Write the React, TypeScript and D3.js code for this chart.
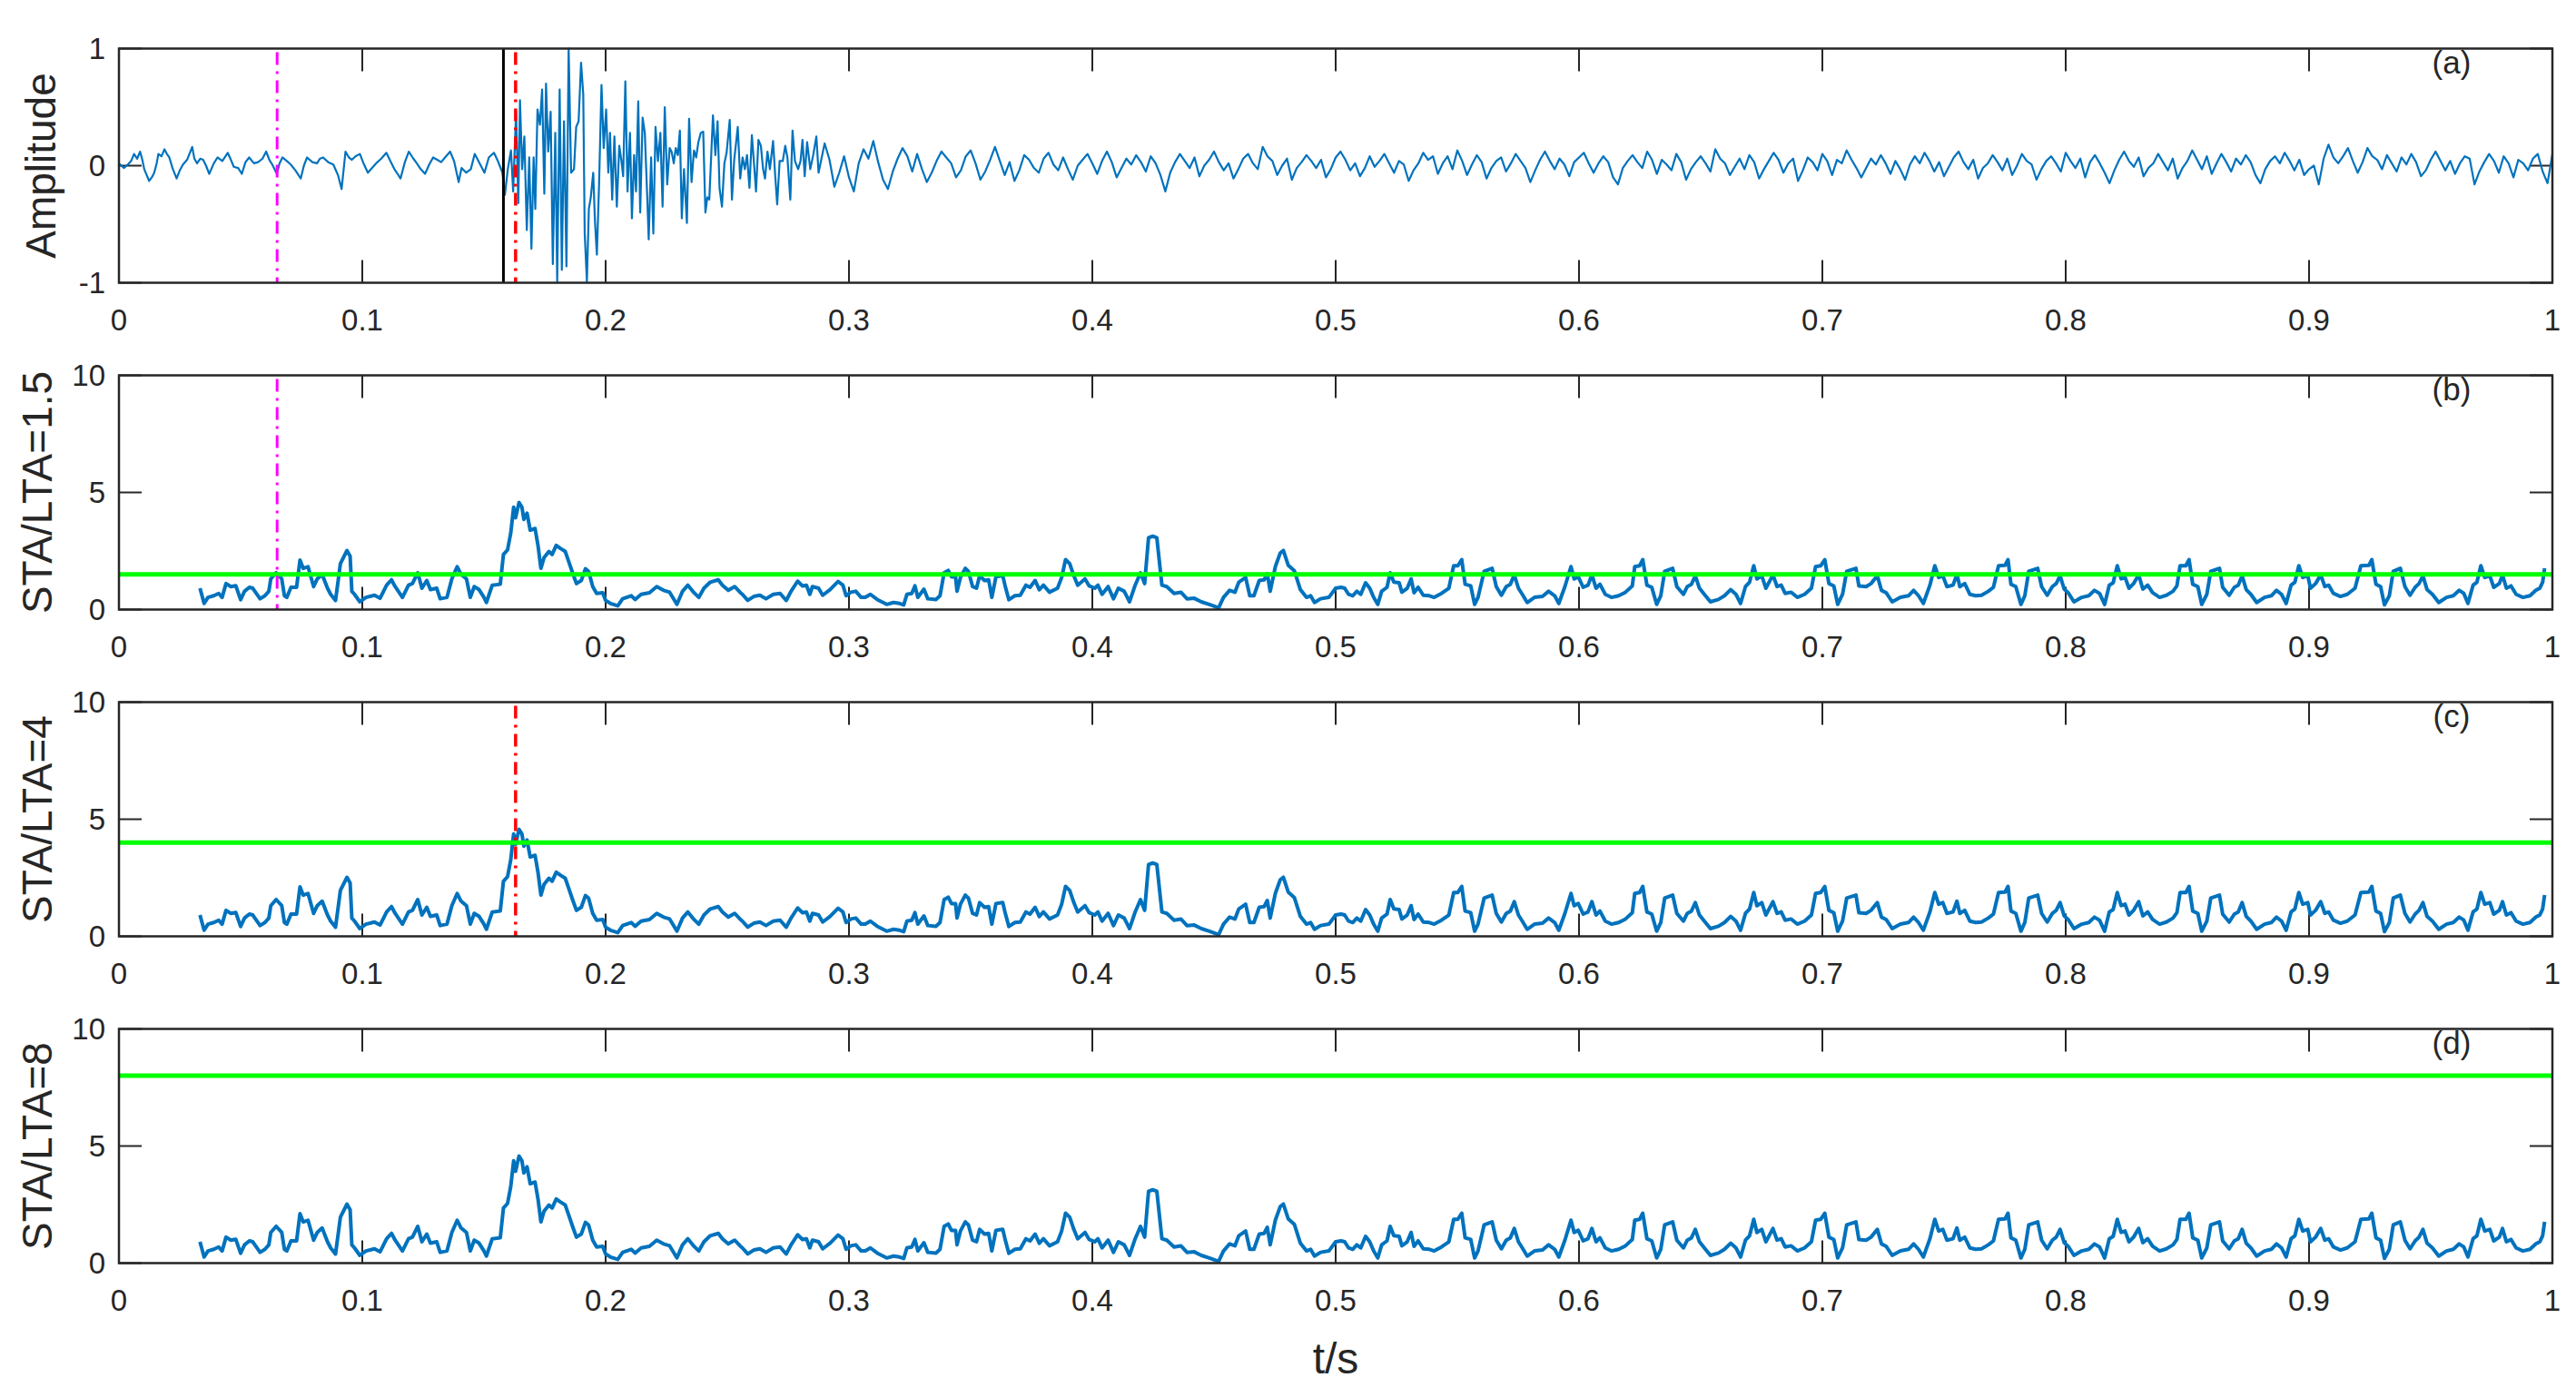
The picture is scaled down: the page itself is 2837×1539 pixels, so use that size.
import React, { useEffect } from 'react';
import * as d3 from 'd3';

type P = [number, number];

// ---------- axis / label data ----------
const xTickValues = [0, 0.1, 0.2, 0.3, 0.4, 0.5, 0.6, 0.7, 0.8, 0.9, 1];
const xTickLabels = ['0', '0.1', '0.2', '0.3', '0.4', '0.5', '0.6', '0.7', '0.8', '0.9', '1'];
const ampTicks = [-1, 0, 1];
const ratioTicks = [0, 5, 10];
const yLabels = ['Amplitude', 'STA/LTA=1.5', 'STA/LTA=4', 'STA/LTA=8'];
const panelTags = ['(a)', '(b)', '(c)', '(d)'];
const thresholds = [1.5, 4, 8];
const xLabel = 't/s';

// pick times (s)
const manualPickT = 0.158;
const lowTriggerT = 0.065; // STA/LTA = 1.5 trigger
const triggerT = 0.163; // STA/LTA = 4 trigger

// ---------- waveform (t, amplitude) ----------
const wavePre: P[] = [
  [0, 0.02], [0.002, -0.02], [0.0037, 0.01], [0.005, 0.04], [0.0062, 0.1], [0.0075, 0.06], [0.0087, 0.12], [0.0096, 0.05],
  [0.0104, -0.03], [0.0114, -0.08], [0.0124, -0.13], [0.0135, -0.1], [0.0145, -0.06], [0.0155, 0.02], [0.0162, 0.1], [0.0175, 0.08],
  [0.0187, 0.14], [0.0197, 0.1], [0.0207, 0.07], [0.022, -0.02], [0.0237, -0.11], [0.025, -0.04], [0.0263, 0.01], [0.028, 0.05],
  [0.0301, 0.16], [0.031, 0.06], [0.0321, 0.02], [0.0334, 0.06], [0.0346, 0.05], [0.0358, 0.0], [0.0371, -0.07], [0.039, 0.02],
  [0.0405, 0.07], [0.0425, 0.04], [0.0447, 0.11], [0.046, 0.05], [0.0472, -0.01], [0.049, -0.02], [0.0505, -0.07], [0.052, 0.03],
  [0.0535, 0.07], [0.0555, 0.02], [0.0572, 0.03], [0.059, 0.06], [0.0605, 0.12], [0.0618, 0.05], [0.063, 0.01], [0.0649, -0.07],
  [0.066, 0.02], [0.0672, 0.07], [0.069, 0.04], [0.0706, 0.01], [0.0725, -0.04], [0.0747, -0.11], [0.076, 0.0], [0.0773, 0.07],
  [0.0795, 0.03], [0.0814, 0.02], [0.0826, 0.06], [0.0839, 0.07], [0.086, 0.03], [0.0881, 0.01], [0.09, -0.08], [0.0915, -0.2],
  [0.0931, 0.12], [0.0945, 0.07], [0.0957, 0.05], [0.0972, 0.08], [0.099, 0.1], [0.1005, 0.02], [0.1023, -0.06], [0.104, -0.02],
  [0.1057, 0.02], [0.1078, 0.06], [0.1099, 0.11], [0.1115, 0.04], [0.1132, -0.03], [0.1145, -0.07], [0.1157, -0.11], [0.1175, 0.03],
  [0.1191, 0.12], [0.121, 0.06], [0.1224, 0.02], [0.124, -0.03], [0.1258, -0.07], [0.1275, 0.01], [0.1291, 0.07], [0.1308, 0.05],
  [0.1324, 0.03], [0.134, 0.07], [0.1361, 0.12],
];

const waveEvent: P[] = [
  [0.1377, 0.04], [0.1396, -0.14], [0.1408, -0.02], [0.1427, -0.06], [0.1446, -0.03], [0.1462, 0.1], [0.1477, 0.04], [0.1502, -0.06],
  [0.152, 0.07], [0.1541, 0.11], [0.1557, 0.04], [0.1576, -0.06], [0.1586, -0.25], [0.1598, -0.03], [0.1611, 0.13], [0.162, -0.22],
  [0.1632, 0.46], [0.1641, -0.32], [0.1648, 0.56], [0.1657, -0.03], [0.1666, 0.25], [0.1676, -0.55], [0.1686, 0.07], [0.1695, -0.71],
  [0.1704, 0.07], [0.1711, -0.37], [0.172, 0.48], [0.173, 0.35], [0.1739, 0.65], [0.1748, -0.24], [0.1755, 0.7], [0.1764, 0.12],
  [0.1774, 0.46], [0.1783, -0.84], [0.1793, 0.28], [0.1801, -0.99], [0.1811, 0.65], [0.182, -0.89], [0.1829, 0.38], [0.1839, -0.86],
  [0.1848, 1.0], [0.1858, -0.06], [0.187, -0.03], [0.1879, 0.33], [0.1889, 0.38], [0.1899, 0.88], [0.1908, 0.61], [0.1914, -0.58],
  [0.1923, -0.99], [0.1931, -0.37], [0.1939, -0.27], [0.1949, -0.06], [0.1956, -0.47], [0.1964, -0.76], [0.1973, -0.16], [0.1983, 0.69],
  [0.1992, 0.15], [0.2002, 0.48], [0.2011, -0.06], [0.2018, 0.28], [0.2027, -0.29], [0.2036, 0.25], [0.2046, -0.35], [0.2056, 0.17],
  [0.2065, 0.04], [0.2072, -0.09], [0.2081, 0.72], [0.209, -0.22], [0.21, 0.28], [0.2108, -0.45], [0.2117, 0.09], [0.2125, -0.22],
  [0.2134, 0.55], [0.2142, -0.4], [0.2152, 0.41], [0.2161, 0.28], [0.2171, -0.27], [0.2177, -0.63], [0.2187, 0.07], [0.2196, -0.58],
  [0.2205, 0.33], [0.2215, 0.04], [0.2225, 0.28], [0.2234, -0.35], [0.2243, 0.5], [0.2253, -0.16], [0.2263, 0.15], [0.2271, 0.12],
  [0.228, 0.02], [0.2288, 0.15], [0.2297, 0.09], [0.2305, 0.3], [0.2313, -0.45], [0.2322, -0.03], [0.2334, -0.49], [0.2343, 0.4],
  [0.2353, -0.14], [0.2363, 0.13], [0.2372, 0.07], [0.2381, 0.2], [0.2391, 0.28], [0.2401, 0.29], [0.241, -0.4], [0.2418, -0.27],
  [0.2426, -0.29], [0.2441, 0.43], [0.2451, 0.09], [0.246, 0.38], [0.2468, -0.19], [0.2478, -0.35], [0.2488, 0.02], [0.2497, 0.11],
  [0.251, 0.39], [0.2519, -0.29], [0.2528, 0.04], [0.2543, 0.33], [0.2553, -0.11], [0.2563, 0.07], [0.2572, -0.03], [0.2581, 0.09],
  [0.2591, -0.19], [0.2601, 0.26], [0.2609, 0.04], [0.2618, -0.22], [0.2628, 0.22], [0.2638, 0.17], [0.2647, -0.03], [0.2655, -0.11],
  [0.2665, 0.12], [0.2675, -0.03], [0.2688, 0.21], [0.2697, -0.09], [0.2705, -0.33], [0.2715, 0.04], [0.2728, 0.04], [0.2738, 0.17],
  [0.2747, 0.07], [0.2759, -0.29], [0.2768, 0.3], [0.2778, 0.04], [0.2791, -0.03], [0.2801, 0.04], [0.2809, 0.22], [0.2818, -0.09],
  [0.2828, 0.2], [0.2841, -0.03], [0.2853, 0.09], [0.2866, 0.25], [0.2875, -0.06],
];

// coda + background noise, sampled every 2 ms from 0.29 s to 1.0 s
const waveTailStart = 0.29;
const waveTailStep = 0.002;
const waveTailValues = [
  0.19, 0.05, -0.18, -0.06, 0.08, -0.1, -0.22, 0.02, 0.14, 0.06,
  0.21, 0.03, -0.12, -0.2, -0.05, 0.06, 0.15, 0.08, -0.05, 0.1,
  -0.03, -0.14, -0.06, 0.04, 0.12, 0.07, 0.02, -0.1, -0.04, 0.08,
  0.13, 0.02, -0.12, -0.05, 0.05, 0.16, 0.04, -0.08, 0.03, -0.13,
  -0.04, 0.09, 0.05, -0.02, -0.06, 0.06, 0.11, 0.01, -0.04, 0.07,
  -0.03, -0.12, 0.0, 0.05, 0.1, 0.02, -0.07, 0.04, 0.12, 0.03,
  -0.1, -0.02, 0.06, 0.01, 0.09, 0.03, -0.05, 0.08, 0.02, -0.08,
  -0.22, -0.06, 0.03, 0.1, 0.04, -0.02, 0.07, -0.09, 0.0, 0.05,
  0.12, 0.03, -0.04, 0.02, -0.11, -0.03, 0.06, 0.1, 0.02, -0.03,
  0.16, 0.08, 0.04, -0.08, 0.0, 0.06, -0.12, -0.02, 0.03, 0.09,
  0.04, -0.02, 0.05, -0.1, -0.03, 0.07, 0.12, 0.05, -0.04, 0.02,
  -0.09, -0.02, 0.08, -0.01, 0.04, 0.1, 0.02, -0.06, 0.04, 0.01,
  -0.13, -0.04, 0.02, 0.11, 0.05, 0.08, -0.07, 0.02, 0.08, -0.03,
  0.13, 0.04, -0.08, 0.01, 0.09, 0.03, -0.11, -0.02, 0.04, 0.07,
  -0.05, 0.02, 0.1, 0.04, -0.02, -0.14, -0.04, 0.05, 0.12, 0.04,
  -0.03, 0.06, 0.01, -0.09, 0.03, 0.07, 0.11, 0.02, -0.06, 0.02,
  0.08, 0.03, -0.1, -0.16, -0.02, 0.04, 0.09, 0.03, -0.02, 0.12,
  0.05, -0.07, 0.05, 0.01, -0.04, 0.1, 0.03, -0.12, -0.03, 0.03,
  0.08, 0.02, -0.05, 0.14, 0.06, 0.02, -0.08, -0.01, 0.06, -0.03,
  0.09, 0.03, -0.11, -0.03, 0.04, 0.11, 0.05, -0.06, 0.02, 0.06,
  -0.13, -0.04, 0.07, 0.03, -0.04, 0.1, 0.04, -0.08, 0.05, 0.02,
  0.13, 0.05, -0.02, -0.1, -0.02, 0.06, 0.01, 0.09, 0.02, -0.07,
  0.04, -0.03, -0.12, 0.01, 0.08, 0.02, 0.11, 0.04, -0.05, 0.03,
  -0.09, -0.01, 0.07, 0.12, 0.03, -0.03, 0.05, -0.11, -0.02, 0.02,
  0.09, 0.03, -0.04, 0.06, -0.08, 0.0, 0.1, 0.04, 0.01, -0.12,
  -0.03, 0.04, 0.08, 0.02, -0.05, 0.11, 0.04, -0.02, 0.06, -0.1,
  0.03, 0.09, 0.02, -0.06, -0.15, -0.04, 0.05, 0.12, 0.04, -0.01,
  0.07, -0.09, -0.02, 0.02, 0.1, 0.03, -0.04, 0.06, -0.11, -0.02,
  0.04, 0.13, 0.05, -0.03, 0.08, -0.07, 0.02, 0.1, 0.03, -0.05,
  0.06, 0.01, 0.09, 0.03, -0.08, -0.15, -0.03, 0.04, 0.08, 0.02,
  0.11, 0.04, -0.04, 0.05, -0.08, -0.03, 0.0, -0.16, 0.06, 0.18,
  0.07, 0.02, 0.08, 0.15, 0.04, -0.06, 0.03, 0.15, 0.08, 0.05,
  -0.03, 0.09, 0.02, -0.05, 0.07, 0.01, 0.1, 0.03, -0.09, -0.04,
  0.05, 0.12, 0.04, -0.04, 0.04, -0.07, 0.02, 0.08, 0.06, -0.16,
  -0.05, 0.03, 0.1, 0.04, -0.06, 0.08, 0.02, -0.1, 0.05, 0.02,
  -0.04, 0.06, 0.1, -0.05, -0.15, 0.1,
];

// ---------- STA/LTA ratio (t, ratio) ----------
const staltaEarly: P[] = [
  [0.0333, 0.91], [0.035, 0.26], [0.0366, 0.52], [0.039, 0.59], [0.041, 0.69], [0.0424, 0.52], [0.044, 1.11], [0.046, 0.98],
  [0.048, 1.02], [0.05, 0.42], [0.0516, 0.78], [0.0536, 0.95], [0.055, 0.91], [0.058, 0.46], [0.06, 0.59], [0.0616, 0.78],
  [0.0624, 1.31], [0.0646, 1.57], [0.0669, 1.31], [0.068, 0.59], [0.069, 0.52], [0.0707, 0.95], [0.073, 0.95], [0.0744, 2.11],
  [0.0757, 1.76], [0.0777, 1.83], [0.08, 0.98], [0.0815, 1.31], [0.0835, 1.5], [0.0857, 0.91], [0.087, 0.65], [0.089, 0.39],
  [0.091, 1.96], [0.0937, 2.52], [0.095, 2.28], [0.0957, 0.78], [0.0968, 0.65], [0.099, 0.33], [0.1015, 0.52], [0.105, 0.61],
  [0.1073, 0.48], [0.11, 1.04], [0.112, 1.27], [0.1135, 0.98], [0.1165, 0.52], [0.119, 1.04], [0.1206, 1.11], [0.1228, 1.57],
  [0.1245, 0.91], [0.1265, 1.24], [0.128, 0.85], [0.1306, 0.91], [0.132, 0.46], [0.1348, 0.52], [0.1368, 1.31], [0.139, 1.83],
  [0.1406, 1.5], [0.1428, 1.31], [0.1444, 0.52], [0.146, 0.98], [0.148, 0.85], [0.15, 0.52], [0.151, 0.3], [0.1534, 1.04],
  [0.1567, 1.08], [0.158, 2.35], [0.1597, 2.55], [0.161, 3.26], [0.1622, 4.37], [0.163, 3.92], [0.1644, 4.57], [0.1656, 4.37],
  [0.1664, 3.85], [0.1677, 4.11], [0.169, 3.39], [0.171, 3.46], [0.1722, 2.74], [0.1734, 1.76], [0.1747, 2.22], [0.1767, 2.48],
  [0.178, 2.35], [0.1797, 2.74], [0.1814, 2.61], [0.1834, 2.48], [0.1847, 2.09], [0.1864, 1.57], [0.188, 1.11], [0.19, 1.24],
  [0.1917, 1.74], [0.193, 1.63], [0.1947, 0.98], [0.1963, 0.69], [0.1988, 0.72], [0.2, 0.39], [0.202, 0.26], [0.205, 0.16],
  [0.207, 0.46], [0.2105, 0.59], [0.2121, 0.43], [0.2146, 0.65], [0.218, 0.72], [0.221, 0.98], [0.2238, 0.82], [0.2263, 0.74],
  [0.2293, 0.22], [0.2316, 0.78], [0.2338, 1.04], [0.2363, 0.72], [0.2383, 0.52], [0.2404, 0.91], [0.243, 1.17], [0.2463, 1.27],
  [0.248, 1.04], [0.2504, 0.82], [0.253, 0.98], [0.2554, 0.72],
];

const staltaMid: P[] = [
  [0.2562, 0.65], [0.2584, 0.39], [0.2609, 0.56], [0.2634, 0.61], [0.2659, 0.46], [0.2689, 0.65], [0.2717, 0.69], [0.2742, 0.39],
  [0.2762, 0.78], [0.2789, 1.21], [0.2809, 1.01], [0.2825, 1.04], [0.2839, 0.65], [0.285, 0.98], [0.2875, 0.91], [0.2892, 0.61],
  [0.2922, 0.85], [0.2955, 1.2], [0.2975, 1.04], [0.2988, 0.59], [0.3008, 0.74], [0.3028, 0.78], [0.305, 0.52], [0.3067, 0.52],
  [0.3088, 0.65], [0.3116, 0.43], [0.3155, 0.22], [0.3183, 0.3], [0.3208, 0.26], [0.3225, 0.2], [0.3238, 0.65], [0.3258, 0.69],
  [0.3271, 1.01], [0.3283, 0.52], [0.3308, 0.87], [0.3324, 0.46], [0.3358, 0.43], [0.3374, 0.59], [0.3391, 1.57], [0.3408, 1.67],
  [0.3421, 1.4], [0.3438, 1.4], [0.3444, 0.78], [0.3458, 1.37], [0.3478, 1.76], [0.3491, 1.63], [0.3508, 0.98], [0.3524, 0.91],
  [0.3537, 1.44], [0.3557, 1.24], [0.3574, 1.27], [0.3587, 0.52], [0.3604, 1.4], [0.3632, 1.44], [0.3641, 1.04], [0.3657, 0.42],
  [0.3682, 0.59], [0.3704, 0.61], [0.3727, 1.04], [0.3744, 0.95], [0.3765, 1.24], [0.3782, 0.85], [0.3799, 1.04], [0.3824, 0.74],
  [0.3857, 0.91], [0.3874, 1.37], [0.389, 2.13], [0.3907, 1.96], [0.3924, 1.44], [0.394, 1.04], [0.397, 1.31], [0.3987, 1.01],
  [0.401, 0.91], [0.4023, 1.04], [0.404, 0.65], [0.4065, 0.98], [0.4087, 0.46], [0.4107, 0.91], [0.4131, 0.78], [0.4153, 0.33],
  [0.4176, 1.04], [0.4198, 1.57], [0.4215, 1.11], [0.4231, 3.07], [0.4248, 3.13], [0.4265, 3.07], [0.4286, 1.04], [0.4306, 0.98],
  [0.4336, 0.69], [0.4364, 0.74], [0.4389, 0.46], [0.4419, 0.48], [0.4448, 0.33], [0.4481, 0.22], [0.4519, 0.07], [0.4539, 0.52],
  [0.4564, 0.82], [0.4586, 0.74], [0.4602, 1.17], [0.463, 1.37], [0.4647, 0.59], [0.4664, 0.59], [0.4686, 1.24], [0.4706, 1.27],
  [0.4719, 1.53], [0.4731, 0.78], [0.4752, 1.83], [0.4772, 2.41], [0.4785, 2.52], [0.4805, 1.89], [0.483, 1.66], [0.4855, 0.85],
  [0.488, 0.52], [0.4897, 0.59], [0.4913, 0.3], [0.4938, 0.46], [0.4972, 0.52], [0.5, 0.91], [0.5022, 0.95],
];

const staltaLate: P[] = [
  [0.5037, 0.91], [0.5053, 0.65], [0.507, 0.59], [0.5087, 0.78], [0.5103, 0.65], [0.5123, 1.14], [0.514, 0.91], [0.5156, 0.52],
  [0.5173, 0.22], [0.5189, 0.78], [0.5211, 0.95], [0.5224, 1.57], [0.5239, 1.17], [0.5261, 1.14], [0.5272, 0.74], [0.5294, 0.91],
  [0.531, 1.31], [0.5322, 0.72], [0.5339, 0.95], [0.536, 0.61], [0.5385, 0.59], [0.5405, 0.52], [0.5435, 0.69], [0.5465, 0.91],
  [0.5485, 1.87], [0.5502, 1.87], [0.5518, 2.13], [0.5532, 1.08], [0.5555, 1.01], [0.5571, 0.22], [0.5585, 0.52], [0.561, 1.63],
  [0.5643, 1.76], [0.566, 0.98], [0.5681, 0.61], [0.5701, 0.98], [0.5718, 1.08], [0.5734, 1.48], [0.5751, 0.91], [0.5767, 0.65],
  [0.5787, 0.3], [0.5817, 0.52], [0.585, 0.56], [0.5875, 0.78], [0.59, 0.59], [0.5917, 0.26], [0.5942, 0.98], [0.5967, 1.83],
  [0.598, 1.31], [0.5997, 1.4], [0.6017, 0.95], [0.6037, 1.04], [0.6053, 1.48], [0.607, 0.91], [0.6086, 1.08], [0.6108, 0.65],
  [0.6133, 0.52], [0.6163, 0.59], [0.6191, 0.74], [0.6219, 1.01], [0.6229, 1.83], [0.6249, 1.87], [0.6262, 2.13], [0.6279, 1.04],
  [0.6299, 0.95], [0.6319, 0.22], [0.6336, 0.59], [0.6352, 1.63], [0.6385, 1.76], [0.6402, 0.98], [0.6429, 0.65], [0.6445, 0.98],
  [0.6462, 1.08], [0.6478, 1.44], [0.6495, 0.91], [0.6515, 0.65], [0.654, 0.33], [0.6573, 0.43], [0.6598, 0.59], [0.6623, 0.85],
  [0.6645, 0.65], [0.6664, 0.26], [0.6684, 0.98], [0.6701, 1.17], [0.6718, 1.87], [0.6731, 1.31], [0.6751, 1.44], [0.6768, 0.91],
  [0.6797, 1.48], [0.6814, 0.98], [0.6831, 1.04], [0.6847, 0.69], [0.6872, 0.74], [0.6897, 0.52], [0.6927, 0.65], [0.6955, 0.91],
  [0.6972, 1.83], [0.6993, 1.87], [0.701, 2.13], [0.7027, 1.11], [0.7047, 1.01], [0.7063, 0.22], [0.7083, 0.65], [0.71, 1.63],
  [0.7138, 1.76], [0.715, 1.01], [0.718, 0.98], [0.72, 1.11], [0.7226, 1.44], [0.7243, 0.82], [0.7262, 0.72], [0.7287, 0.33],
  [0.7321, 0.52], [0.7354, 0.59], [0.7375, 0.82], [0.7395, 0.59], [0.7415, 0.26], [0.7442, 1.04], [0.7462, 1.87], [0.7478, 1.37],
  [0.7495, 1.44], [0.7512, 0.98], [0.7537, 1.04],
];

const staltaEnd: P[] = [
  [0.7553, 1.5], [0.7565, 0.98], [0.7585, 1.11], [0.7606, 0.65], [0.763, 0.59], [0.7654, 0.61], [0.7682, 0.78], [0.7703, 0.95],
  [0.7724, 1.87], [0.7751, 1.89], [0.7763, 2.13], [0.7775, 1.08], [0.7795, 0.98], [0.7816, 0.22], [0.7832, 0.59], [0.7848, 1.63],
  [0.7885, 1.76], [0.7901, 0.98], [0.7924, 0.61], [0.7945, 0.98], [0.7961, 1.11], [0.7977, 1.44], [0.7994, 0.87], [0.801, 0.72],
  [0.8034, 0.33], [0.8066, 0.52], [0.8095, 0.59], [0.8118, 0.82], [0.8139, 0.69], [0.816, 0.22], [0.8179, 1.04], [0.8195, 1.14],
  [0.8212, 1.87], [0.8228, 1.31], [0.8244, 1.37], [0.826, 0.91], [0.8279, 1.11], [0.83, 1.48], [0.8317, 0.87], [0.8337, 1.04],
  [0.8357, 0.72], [0.8386, 0.52], [0.8414, 0.61], [0.8441, 0.78], [0.8457, 1.01], [0.847, 1.87], [0.8494, 1.87], [0.8507, 2.13],
  [0.8522, 1.08], [0.8543, 0.98], [0.8559, 0.22], [0.858, 0.65], [0.8596, 1.63], [0.8632, 1.76], [0.8645, 0.95], [0.8672, 0.61],
  [0.8693, 0.95], [0.8709, 1.04], [0.8725, 1.44], [0.8742, 0.85], [0.8761, 0.65], [0.8785, 0.3], [0.8817, 0.52], [0.8845, 0.59],
  [0.8866, 0.82], [0.8887, 0.65], [0.8906, 0.26], [0.8926, 1.04], [0.8942, 1.17], [0.8958, 1.87], [0.8974, 1.37], [0.8995, 1.44],
  [0.9006, 0.91], [0.9027, 1.11], [0.9048, 1.48], [0.9065, 0.98], [0.9081, 1.04], [0.91, 0.69], [0.9129, 0.56], [0.9157, 0.65],
  [0.9189, 0.91], [0.9213, 1.87], [0.9246, 1.89], [0.9258, 2.13], [0.9275, 1.08], [0.9294, 0.98], [0.931, 0.2], [0.933, 0.59],
  [0.9346, 1.63], [0.9375, 1.76], [0.9394, 0.98], [0.9415, 0.61], [0.9436, 0.95], [0.9452, 1.11], [0.9468, 1.44], [0.9485, 0.85],
  [0.9507, 0.65], [0.9533, 0.3], [0.9565, 0.52], [0.9593, 0.59], [0.9617, 0.82], [0.9636, 0.69], [0.9653, 0.26], [0.9674, 1.04],
  [0.969, 1.17], [0.9706, 1.87], [0.9722, 1.37], [0.9743, 1.44], [0.9759, 0.95], [0.9782, 1.11], [0.9795, 1.48], [0.9811, 0.91],
  [0.983, 1.01], [0.9851, 0.65], [0.9879, 0.52], [0.9908, 0.59], [0.9932, 0.82], [0.9948, 0.91], [0.996, 1.17], [0.9968, 1.76],
];

// ---------- layout ----------
const W = 2837;
const H = 1539;
const LEFT = 131;
const RIGHT = 2811;
const TOP0 = 53.5;
const STEP = 360;
const PH = 258;
const TICK_LEN = 25;
const AXIS_COLOR = '#262626';
const FONT = '"Liberation Sans", Arial, Helvetica, sans-serif';
const BLUE = '#0072BD';

export default function App() {
  useEffect(() => {
    document.body.style.margin = '0';
  }, []);

  const waveTail: P[] = waveTailValues.map((v, k) => [waveTailStart + k * waveTailStep, v]);
  const waveform = [...wavePre, ...waveEvent, ...waveTail];
  const stalta = [...staltaEarly, ...staltaMid, ...staltaLate, ...staltaEnd];

  const x = d3.scaleLinear().domain([0, 1]).range([LEFT, RIGHT]);

  const panels = [0, 1, 2, 3].map((i) => {
    const top = TOP0 + i * STEP;
    const y = d3
      .scaleLinear()
      .domain(i === 0 ? [-1, 1] : [0, 10])
      .range([top + PH, top]);
    return { i, top, y, ticks: i === 0 ? ampTicks : ratioTicks };
  });

  const dashDot = '14,7,3,7';

  return (
    <svg
      width={W}
      height={H}
      viewBox={`0 0 ${W} ${H}`}
      style={{ position: 'absolute', left: 0, top: 0, background: '#fff' }}
      fontFamily={FONT}
    >
      <rect x={0} y={0} width={W} height={H} fill="#fff" />
      {panels.map(({ i, top, y, ticks }) => {
        const bottom = top + PH;
        const line = d3
          .line<P>()
          .x((d) => x(d[0]))
          .y((d) => y(d[1]));
        const data = i === 0 ? waveform : stalta;
        const clipId = `clip${i}`;
        return (
          <g key={i}>
            <defs>
              <clipPath id={clipId}>
                <rect x={LEFT} y={top - 3} width={RIGHT - LEFT} height={PH + 6} />
              </clipPath>
            </defs>
            {xTickValues.map((t) => (
              <g key={`xt${t}`} stroke={AXIS_COLOR} strokeWidth={2}>
                <line x1={x(t)} x2={x(t)} y1={bottom} y2={bottom - TICK_LEN} />
                <line x1={x(t)} x2={x(t)} y1={top} y2={top + TICK_LEN} />
              </g>
            ))}
            {ticks.map((v) => (
              <g key={`yt${v}`} stroke={AXIS_COLOR} strokeWidth={2}>
                <line x1={LEFT} x2={LEFT + TICK_LEN} y1={y(v)} y2={y(v)} />
                <line x1={RIGHT} x2={RIGHT - TICK_LEN} y1={y(v)} y2={y(v)} />
              </g>
            ))}
            <g clipPath={`url(#${clipId})`}>
              <path
                d={line(data) || ''}
                fill="none"
                stroke={BLUE}
                strokeWidth={i === 0 ? 2.2 : 4}
                strokeLinejoin="round"
              />
              {i > 0 && (
                <line
                  x1={LEFT}
                  x2={RIGHT}
                  y1={y(thresholds[i - 1])}
                  y2={y(thresholds[i - 1])}
                  stroke="#00FF00"
                  strokeWidth={5}
                />
              )}
              {i === 0 && (
                <line x1={x(manualPickT)} x2={x(manualPickT)} y1={top} y2={bottom} stroke="#000" strokeWidth={3} />
              )}
              {(i === 0 || i === 1) && (
                <line
                  x1={x(lowTriggerT)}
                  x2={x(lowTriggerT)}
                  y1={top + 4}
                  y2={bottom}
                  stroke="#FF00FF"
                  strokeWidth={3}
                  strokeDasharray={dashDot}
                />
              )}
              {(i === 0 || i === 2) && (
                <line
                  x1={x(triggerT)}
                  x2={x(triggerT)}
                  y1={top + 4}
                  y2={bottom}
                  stroke="#FF0000"
                  strokeWidth={3.5}
                  strokeDasharray={dashDot}
                />
              )}
            </g>
            <rect x={LEFT} y={top} width={RIGHT - LEFT} height={PH} fill="none" stroke={AXIS_COLOR} strokeWidth={2.5} />
            {xTickValues.map((t, k) => (
              <text key={`xl${t}`} x={x(t)} y={bottom + 52} textAnchor="middle" fontSize={33} fill={AXIS_COLOR}>
                {xTickLabels[k]}
              </text>
            ))}
            {ticks.map((v) => (
              <text
                key={`yl${v}`}
                x={LEFT - 15}
                y={y(v)}
                dy="0.36em"
                textAnchor="end"
                fontSize={33}
                fill={AXIS_COLOR}
              >
                {String(v)}
              </text>
            ))}
            <text
              transform={`translate(${i === 0 ? 61 : 57},${top + PH / 2}) rotate(-90)`}
              textAnchor="middle"
              fontSize={46}
              fill={AXIS_COLOR}
            >
              {yLabels[i]}
            </text>
            <text x={2700} y={top + 27} textAnchor="middle" fontSize={35} fill={AXIS_COLOR}>
              {panelTags[i]}
            </text>
          </g>
        );
      })}
      <text x={x(0.5)} y={1513} textAnchor="middle" fontSize={48} fill={AXIS_COLOR}>
        {xLabel}
      </text>
    </svg>
  );
}
